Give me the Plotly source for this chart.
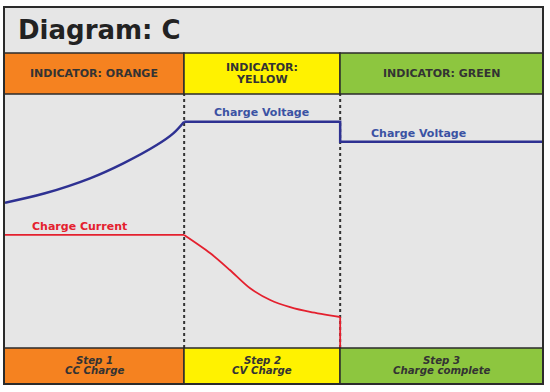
import plotly.graph_objects as go

# ---- data (time in arbitrary units, values in % of plot height) ----
voltage_time = [0, 0.743, 1.580, 2.199, 2.820, 3.128, 3.33, 6.23, 6.23, 10]
voltage_vals = [57.2, 60.9, 66.8, 72.7, 79.9, 84.5, 89.1, 89.1, 81.2, 81.2]
current_time = [0, 3.33, 3.81, 4.18, 4.55, 4.93, 5.30, 5.67, 6.23, 6.23]
current_vals = [44.5, 44.5, 37.4, 30.7, 23.6, 18.9, 16.1, 14.2, 12.2, 0]
step_bounds = [3.33, 6.23]
header_labels = ["INDICATOR: ORANGE", "INDICATOR:<br>YELLOW", "INDICATOR: GREEN"]
footer_labels = ["Step 1<br>CC Charge", "Step 2<br>CV Charge", "Step 3<br>Charge complete"]
phase_colors = ["#f58220", "#fff200", "#8dc63f"]
title_text = "Diagram: C"

W, H = 550, 392
def px(x): return x / W
def py(y): return 1 - y / H

X0, X1 = 5, 543          # plot area pixels
Y0, Y1 = 94, 348
col_edges = [4, 184, 340, 543]
FONT = "DejaVu Sans"
DARK = "#2b2b2b"
VCOL = "#2e3192"
ICOL = "#e4202e"

fig = go.Figure()
fig.add_trace(go.Scatter(x=voltage_time[:7], y=voltage_vals[:7], mode="lines",
                         line=dict(color=VCOL, width=2.5, shape="spline", smoothing=1.0),
                         hoverinfo="skip"))
fig.add_trace(go.Scatter(x=voltage_time[6:], y=voltage_vals[6:], mode="lines",
                         line=dict(color=VCOL, width=2.5), hoverinfo="skip"))
fig.add_trace(go.Scatter(x=current_time[:2], y=current_vals[:2], mode="lines",
                         line=dict(color=ICOL, width=1.8), hoverinfo="skip"))
fig.add_trace(go.Scatter(x=current_time[1:9], y=current_vals[1:9], mode="lines",
                         line=dict(color=ICOL, width=1.8, shape="spline", smoothing=0.8),
                         hoverinfo="skip"))
fig.add_trace(go.Scatter(x=current_time[8:], y=current_vals[8:], mode="lines",
                         line=dict(color=ICOL, width=1.8), hoverinfo="skip"))

shapes = []
shapes.append(dict(type="rect", xref="paper", yref="paper", x0=px(4), x1=px(543),
                   y0=py(384), y1=py(7), fillcolor="#e6e6e6", line=dict(width=0), layer="below"))
for i in range(3):
    for (ya, yb) in [(53, 94), (348, 384)]:
        shapes.append(dict(type="rect", xref="paper", yref="paper",
                           x0=px(col_edges[i]), x1=px(col_edges[i + 1]),
                           y0=py(yb), y1=py(ya), fillcolor=phase_colors[i],
                           line=dict(color=DARK, width=1.5), layer="above"))
shapes.append(dict(type="rect", xref="paper", yref="paper", x0=px(4), x1=px(543),
                   y0=py(384), y1=py(7), line=dict(color=DARK, width=2), layer="above"))
for b in step_bounds:
    shapes.append(dict(type="line", xref="x", yref="paper", x0=b, x1=b,
                       y0=py(Y1), y1=py(Y0), line=dict(color="#333333", width=2, dash="dot"),
                       layer="below"))
fig.update_layout(shapes=shapes)

ann = []
ann.append(dict(text="<b>" + title_text + "</b>", xref="paper", yref="paper",
                x=px(16), y=py(30), xanchor="left", yanchor="middle", showarrow=False,
                font=dict(family=FONT, size=26, color="#222222")))

def add_lines(label, cx, cy, step, fmt, size):
    parts = label.split("<br>")
    n = len(parts)
    for k, p in enumerate(parts):
        yy = cy + (k - (n - 1) / 2) * step
        ann.append(dict(text=fmt.format(p), xref="paper", yref="paper",
                        x=px(cx), y=py(yy), xanchor="center", yanchor="middle",
                        showarrow=False, font=dict(family=FONT, size=size, color="#333333")))

for i in range(3):
    cx = (col_edges[i] + col_edges[i + 1]) / 2
    add_lines(header_labels[i], cx, 73.5, 11.5, "<b>{}</b>", 11)
    add_lines(footer_labels[i], cx, 365.5, 10.5, "<b><i>{}</i></b>", 10.2)

ann.append(dict(text="<b>Charge Voltage</b>", x=4.76, y=92.6, xanchor="center", yanchor="middle",
                showarrow=False, font=dict(family=FONT, size=11, color="#3b52a3")))
ann.append(dict(text="<b>Charge Voltage</b>", x=7.68, y=84.3, xanchor="center", yanchor="middle",
                showarrow=False, font=dict(family=FONT, size=11, color="#3b52a3")))
ann.append(dict(text="<b>Charge Current</b>", x=1.39, y=47.7, xanchor="center", yanchor="middle",
                showarrow=False, font=dict(family=FONT, size=11, color=ICOL)))
fig.update_layout(annotations=ann)

fig.update_layout(
    width=W, height=H, margin=dict(l=0, r=0, t=0, b=0),
    paper_bgcolor="white", plot_bgcolor="#e6e6e6", showlegend=False,
    xaxis=dict(domain=[px(X0), px(X1)], range=[0, 10], visible=False, fixedrange=True),
    yaxis=dict(domain=[py(Y1), py(Y0)], range=[0, 100], visible=False, fixedrange=True),
)
fig.write_html("out.html", config={"displayModeBar": False},
               post_script="document.body.style.margin='0';document.body.style.overflow='hidden';")
